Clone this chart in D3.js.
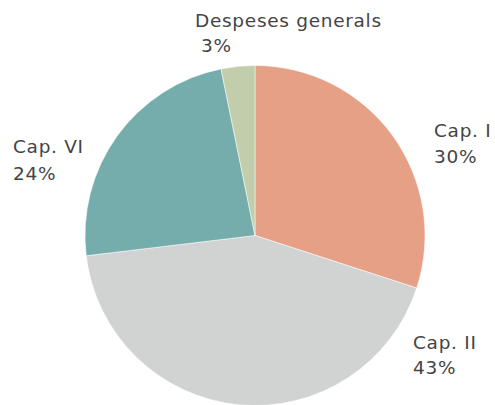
<!DOCTYPE html>
<html><head><meta charset="utf-8">
<script src="https://cdn.jsdelivr.net/npm/d3@7"></script>
<style>html,body{margin:0;padding:0;background:#fff;}</style>
</head><body>
<svg id="chart" width="495" height="405"></svg>
<script>
const categories = ["Cap. I", "Cap. II", "Cap. VI", "Despeses generals"];
const values = [30.0, 43.1, 23.7, 3.2];
const percentLabels = ["30%", "43%", "24%", "3%"];
const colors = ["#e6a086", "#d1d3d2", "#75adac", "#c2cdab"];

const svg = d3.select("#chart");
const cx = 255, cy = 235.5, r = 170;
const data = categories.map((c, i) => ({name: c, value: values[i], pct: percentLabels[i], color: colors[i]}));
const pie = d3.pie().value(d => d.value).sort(null);
const arc = d3.arc().innerRadius(0).outerRadius(r);
const g = svg.append("g").attr("transform", `translate(${cx},${cy})`);
g.selectAll("path").data(pie(data)).join("path")
  .attr("d", arc).attr("fill", d => d.data.color)
  .attr("stroke", "#fff").attr("stroke-width", 0.5);

const labelPos = [[434, 137], [413, 349], [13, 153], [195, 27]];
const pctPos = [[434, 163], [413, 374], [13, 180], [201, 52]];
const lg = svg.append("g").attr("font-family", "'DejaVu Sans', sans-serif").attr("font-size", 18.5)
  .attr("letter-spacing", 0.7).attr("fill", "#444");
data.forEach((d, i) => {
  lg.append("text").attr("x", labelPos[i][0]).attr("y", labelPos[i][1]).text(d.name);
  lg.append("text").attr("x", pctPos[i][0]).attr("y", pctPos[i][1]).text(d.pct);
});
</script>
</body></html>
